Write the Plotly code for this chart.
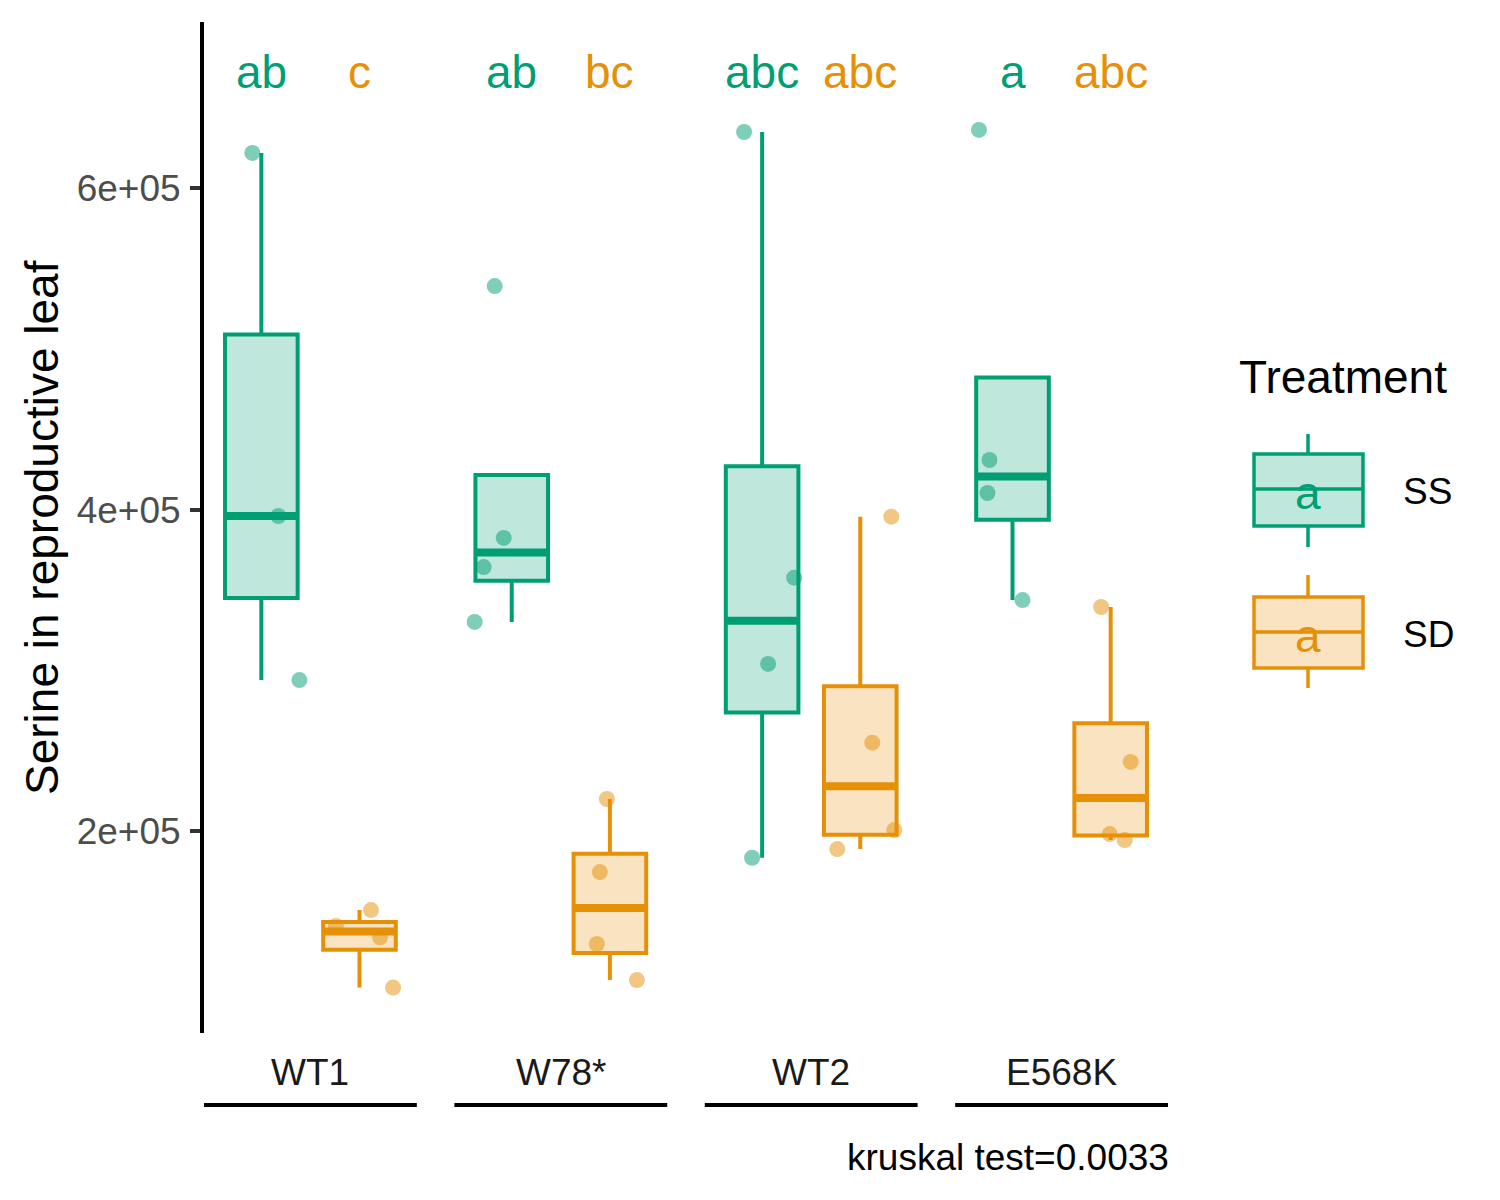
import numpy as np
import plotly.graph_objects as go

# ---------------- data ----------------
genotypes = ["WT1", "W78*", "WT2", "E568K"]
treatments = ["SS", "SD"]

serine_ss = [
    [621600, 396000, 294100],
    [538900, 382400, 364300, 330200],
    [634600, 357700, 304100, 183700],
    [635900, 430800, 410300, 343800],
]
serine_sd = [
    [151200, 141300, 134300, 103000],
    [220200, 174800, 130100, 107700],
    [395600, 255200, 200900, 189100],
    [339500, 243200, 198400, 194700],
]
letters_ss = ["ab", "ab", "abc", "a"]
letters_sd = ["c", "bc", "abc", "abc"]
y_ticks = [200000, 400000, 600000]
y_tick_labels = ["2e+05", "4e+05", "6e+05"]
caption = "kruskal test=0.0033"
y_title = "Serine in reproductive leaf"
legend_title = "Treatment"

# horizontal jitter of the points (category units)
jitter_ss = [
    [-0.036, 0.068, 0.152],
    [-0.068, -0.032, -0.112, -0.148],
    [-0.072, 0.128, 0.024, -0.040],
    [-0.134, -0.092, -0.100, 0.040],
]
jitter_sd = [
    [0.046, -0.094, 0.082, 0.134],
    [-0.012, -0.040, -0.052, 0.108],
    [0.124, 0.048, 0.136, -0.092],
    [-0.038, 0.080, -0.004, 0.056],
]

# ---------------- styling ----------------
GREEN = (0, 158, 115)
ORANGE = (230, 144, 8)
FONT = "Liberation Sans, Arial, sans-serif"


def rgba(c, a):
    return f"rgba({c[0]},{c[1]},{c[2]},{a})"


DODGE = 0.196
BOX_W = 0.29
LINE_W = 4
Y_RANGE = [74800, 702950]
X_RANGE = [0.575, 4.425]
LETTER_Y = 671900

# plot-area pixel geometry (target screen pixels); page body has an 8px margin
OFF = 8
L, R, T, B = 204, 1168, 22, 1033
W, H = R - L, B - T


def px(xp):
    return (xp - L) / W


def py(yp):
    return (B - yp) / H


def box_stats(vals):
    v = np.asarray(vals, dtype=float)
    q1, med, q3 = np.percentile(v, [25, 50, 75])
    iqr = q3 - q1
    inside = v[(v >= q1 - 1.5 * iqr) & (v <= q3 + 1.5 * iqr)]
    lo = min(q1, inside.min())
    hi = max(q3, inside.max())
    return q1, med, q3, lo, hi


fig = go.Figure()

groups = [
    ("SS", serine_ss, jitter_ss, GREEN, -DODGE, letters_ss),
    ("SD", serine_sd, jitter_sd, ORANGE, DODGE, letters_sd),
]

# points (drawn underneath the boxes)
for name, vals, jit, col, off, _ in groups:
    xs, ys = [], []
    for gi, (gv, gj) in enumerate(zip(vals, jit)):
        for v, j in zip(gv, gj):
            xs.append(gi + 1 + off + j)
            ys.append(v)
    fig.add_trace(go.Scatter(
        x=xs, y=ys, mode="markers", showlegend=False, hoverinfo="skip",
        marker=dict(size=16, color=rgba(col, 0.5), line=dict(width=0)),
        xaxis="x", yaxis="y",
    ))

# boxes + thick medians on an overlaid axis pair so they sit above the points
for name, vals, jit, col, off, letters in groups:
    pos = [gi + 1 + off for gi in range(len(vals))]
    stats = [box_stats(v) for v in vals]
    fig.add_trace(go.Box(
        x=pos,
        q1=[s[0] for s in stats], median=[s[1] for s in stats],
        q3=[s[2] for s in stats], lowerfence=[s[3] for s in stats],
        upperfence=[s[4] for s in stats],
        width=BOX_W, whiskerwidth=0, boxpoints=False,
        line=dict(color=rgba(col, 1), width=LINE_W),
        fillcolor=rgba(col, 0.25), name=name, showlegend=False,
        hoverinfo="skip", xaxis="x2", yaxis="y2",
    ))
    mx, my = [], []
    for p, s in zip(pos, stats):
        mx += [p - BOX_W / 2, p + BOX_W / 2, None]
        my += [s[1], s[1], None]
    fig.add_trace(go.Scatter(
        x=mx, y=my, mode="lines", showlegend=False, hoverinfo="skip",
        line=dict(color=rgba(col, 1), width=LINE_W * 2),
        xaxis="x2", yaxis="y2",
    ))
    for p, lt in zip(pos, letters):
        fig.add_annotation(
            x=p, y=LETTER_Y, xref="x", yref="y", text=lt, showarrow=False,
            xanchor="center", yanchor="middle",
            font=dict(family=FONT, size=46, color=rgba(col, 1)),
        )

# category labels and brackets under the axis
for gi, g in enumerate(genotypes):
    c = gi + 1
    fig.add_annotation(
        x=c, y=py(1072), xref="x", yref="paper", text=g, showarrow=False,
        xanchor="center", yanchor="middle",
        font=dict(family=FONT, size=37, color="#1A1A1A"),
    )
    fig.add_shape(
        type="line", xref="x", yref="paper", x0=c - 0.425, x1=c + 0.425,
        y0=py(1105), y1=py(1105), line=dict(color="black", width=4),
    )

# y-axis title and caption
fig.add_annotation(
    x=px(42), y=py(528), xref="paper", yref="paper", text=y_title,
    showarrow=False, textangle=-90, xanchor="center", yanchor="middle",
    font=dict(family=FONT, size=46, color="black"),
)
fig.add_annotation(
    x=px(1171), y=py(1157), xref="paper", yref="paper", text=caption,
    showarrow=False, xanchor="right", yanchor="middle",
    font=dict(family=FONT, size=37, color="black"),
)

# manual legend
fig.add_annotation(
    x=px(1237), y=py(377), xref="paper", yref="paper", text=legend_title,
    showarrow=False, xanchor="left", yanchor="middle",
    font=dict(family=FONT, size=46, color="black"),
)
legend_keys = [
    ("SS", GREEN, 434, 454, 489, 526, 547),
    ("SD", ORANGE, 575, 597, 632, 668, 688),
]
kx0, kx1, kxc = 1254, 1363, 1308
for name, col, wt, bt, md, bb, wb in legend_keys:
    lc = rgba(col, 1)
    fig.add_shape(type="line", xref="paper", yref="paper",
                  x0=px(kxc), x1=px(kxc), y0=py(wt), y1=py(bt),
                  line=dict(color=lc, width=3.5))
    fig.add_shape(type="line", xref="paper", yref="paper",
                  x0=px(kxc), x1=px(kxc), y0=py(bb), y1=py(wb),
                  line=dict(color=lc, width=3.5))
    fig.add_shape(type="rect", xref="paper", yref="paper",
                  x0=px(kx0), x1=px(kx1), y0=py(bb), y1=py(bt),
                  fillcolor=rgba(col, 0.25), line=dict(color=lc, width=3.5))
    fig.add_shape(type="line", xref="paper", yref="paper",
                  x0=px(kx0), x1=px(kx1), y0=py(md), y1=py(md),
                  line=dict(color=lc, width=3.5))
    fig.add_annotation(
        x=px(kxc), y=py(md + 4), xref="paper", yref="paper", text="a",
        showarrow=False, xanchor="center", yanchor="middle",
        font=dict(family=FONT, size=46, color=lc),
    )
    fig.add_annotation(
        x=px(1401), y=py(md + 2), xref="paper", yref="paper", text=name,
        showarrow=False, xanchor="left", yanchor="middle",
        font=dict(family=FONT, size=37, color="black"),
    )

ml = L - OFF
mt = T - OFF
fig.update_layout(
    width=1500, height=1200,
    margin=dict(l=ml, r=1500 - ml - W, t=mt, b=1200 - mt - H, pad=0),
    paper_bgcolor="white", plot_bgcolor="white",
    showlegend=False,
    font=dict(family=FONT),
    xaxis=dict(range=X_RANGE, showticklabels=False, showgrid=False,
               zeroline=False, showline=False, ticks=""),
    yaxis=dict(range=Y_RANGE, tickvals=y_ticks, ticktext=y_tick_labels,
               showline=True, linecolor="black", linewidth=4,
               ticks="outside", ticklen=10, tickwidth=3.5,
               tickcolor="#333333", ticklabelstandoff=2,
               tickfont=dict(family=FONT, size=37, color="#4D4D4D"),
               showgrid=False, zeroline=False),
    xaxis2=dict(range=X_RANGE, overlaying="x", visible=False),
    yaxis2=dict(range=Y_RANGE, overlaying="y", visible=False),
)

fig.write_html("out.html")
